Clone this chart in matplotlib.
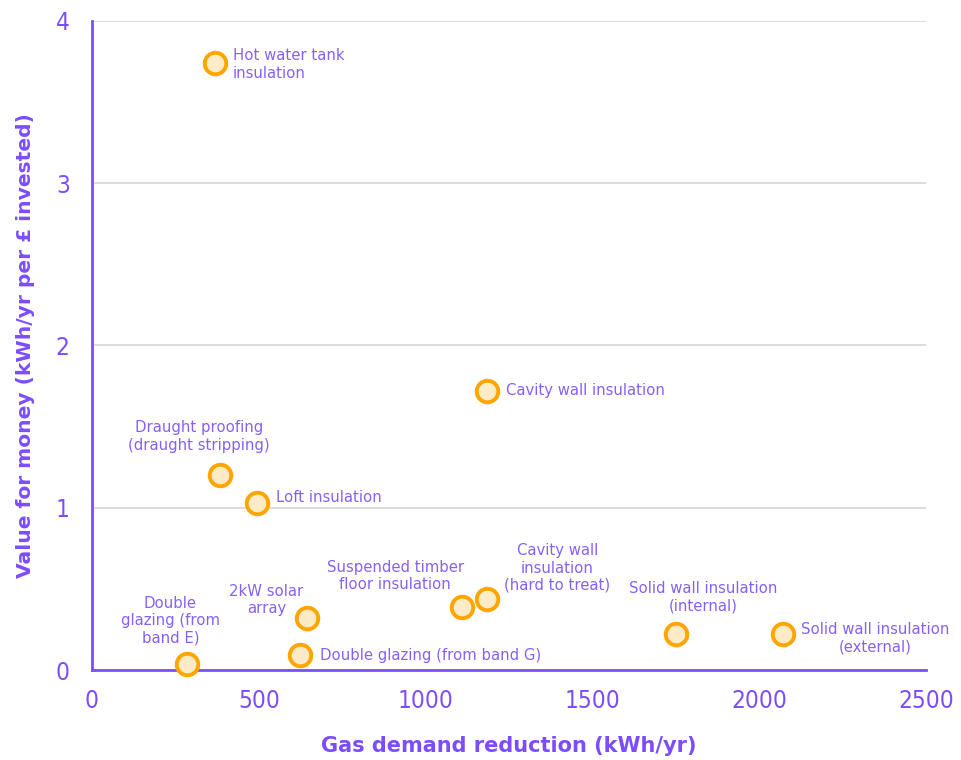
import matplotlib
matplotlib.use("Agg")
import matplotlib.pyplot as plt

# Measures: gas demand reduction vs value for money
measures = [
    "Hot water tank\ninsulation",
    "Cavity wall insulation",
    "Draught proofing\n(draught stripping)",
    "Loft insulation",
    "Suspended timber\nfloor insulation",
    "Cavity wall\ninsulation\n(hard to treat)",
    "2kW solar\narray",
    "Double glazing (from band G)",
    "Double\nglazing (from\nband E)",
    "Solid wall insulation\n(internal)",
    "Solid wall insulation\n(external)",
]
gas_reduction = [368, 1183, 383, 494, 1109, 1183, 644, 624, 285, 1750, 2070]
value_for_money = [3.74, 1.72, 1.20, 1.03, 0.39, 0.44, 0.32, 0.09, 0.04, 0.22, 0.22]

x_ticks = [0, 500, 1000, 1500, 2000, 2500]
y_ticks = [0, 1, 2, 3, 4]

# label placement: (dx, dy in points, horizontal alignment)
label_pos = [
    (13, -1, "left"),
    (14, 0, "left"),
    (-15, 28, "center"),
    (14, 4, "left"),
    (-48, 22, "center"),
    (51, 22, "center"),
    (-29, 13, "center"),
    (14, 0, "left"),
    (-12, 31, "center"),
    (20, 27, "center"),
    (67, -3, "center"),
]

PURPLE = "#7C4DFF"
LABEL_PURPLE = "#8760F7"
ORANGE = "#FFA500"
CREAM = "#FDEBC8"

plt.rcParams["font.family"] = ["DejaVu Sans"]

fig = plt.figure(figsize=(9.62, 7.6), dpi=100)
ax = fig.add_axes([0.0956, 0.1184, 0.8670, 0.8540])

ax.set_xlim(0, 2500)
ax.set_ylim(0, 4)
ax.set_xticks(x_ticks)
ax.set_yticks(y_ticks)
ax.set_xticklabels([str(t) for t in x_ticks])
ax.set_yticklabels([str(t) for t in y_ticks])

ax.yaxis.grid(True, color="#D9D9D9", linewidth=1.3)
ax.set_axisbelow(True)
for side in ("top", "right"):
    ax.spines[side].set_visible(False)
for side in ("left", "bottom"):
    ax.spines[side].set_color(PURPLE)
    ax.spines[side].set_linewidth(2)

ax.tick_params(axis="both", length=0, colors=PURPLE, labelcolor=PURPLE)
ax.tick_params(axis="x", pad=14)
ax.tick_params(axis="y", pad=16)
for lbl in ax.get_xticklabels() + ax.get_yticklabels():
    lbl.set_fontsize(17.5)
    lbl.set_fontstretch("condensed")
    lbl.set_fontweight("light")

ax.plot(gas_reduction, value_for_money, linestyle="none", marker="o",
        markersize=15.5, markerfacecolor=CREAM, markeredgecolor=ORANGE,
        markeredgewidth=2.8, zorder=3, clip_on=False)

for name, x, y, (dx, dy, ha) in zip(measures, gas_reduction, value_for_money, label_pos):
    ax.annotate(name, (x, y), xytext=(dx, dy), textcoords="offset points",
                ha=ha, va="center", fontsize=10.7, color=LABEL_PURPLE,
                multialignment="center" if ha == "center" else "left",
                linespacing=1.2)

xl = ax.set_xlabel("Gas demand reduction (kWh/yr)", fontsize=15,
                   fontweight="bold", color=PURPLE)
xl.set_verticalalignment("center")
ax.xaxis.set_label_coords(0.5, -0.117)

yl = ax.set_ylabel("Value for money (kWh/yr per £ invested)", fontsize=14.6,
                   fontweight="bold", color=PURPLE)
yl.set_verticalalignment("center")
ax.yaxis.set_label_coords(-0.080, 0.5)

fig.savefig("out.png", dpi=100)
